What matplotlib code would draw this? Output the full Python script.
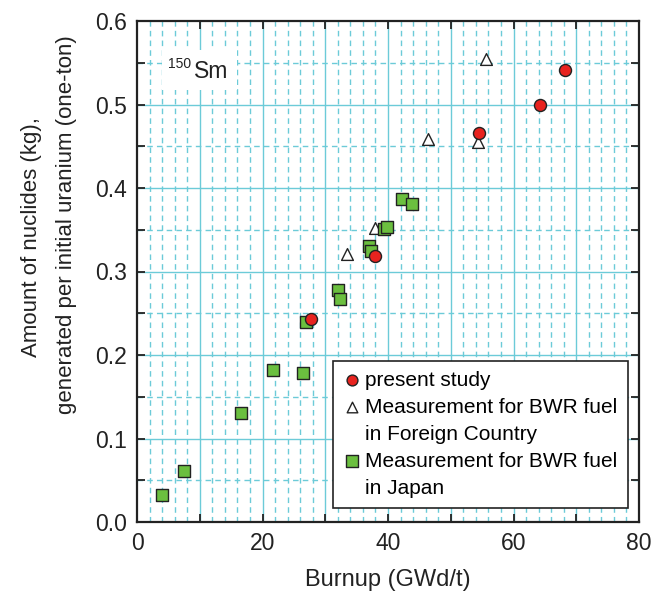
import matplotlib
matplotlib.use("Agg")
import matplotlib.pyplot as plt
from matplotlib.patches import Rectangle
from matplotlib.lines import Line2D
import numpy as np

plt.rcParams['font.family'] = ['Liberation Sans', 'DejaVu Sans']

present_x = [68.2, 64.2, 54.5, 37.9, 27.7]
present_y = [0.541, 0.500, 0.466, 0.318, 0.2435]

foreign_x = [55.6, 46.4, 54.4, 37.9, 33.5]
foreign_y = [0.555, 0.4587, 0.4555, 0.3525, 0.321]

japan_x = [4.0, 7.5, 16.6, 21.7, 26.4, 27.0, 32.1, 32.3, 36.9, 37.3, 39.3, 39.8, 42.3, 43.9]
japan_y = [0.0327, 0.061, 0.131, 0.1824, 0.178, 0.240, 0.278, 0.2675, 0.331, 0.325, 0.3505, 0.3537, 0.3865, 0.381]

legend_lines = ['present study', 'Measurement for BWR fuel', 'in Foreign Country',
                'Measurement for BWR fuel', 'in Japan']

W, H = 654, 592
fig = plt.figure(figsize=(W/100, H/100), dpi=100)
ax = fig.add_axes([137/W, 1-522/H, (639-137)/W, (522-21)/H])

grid_c = '#6ccbd8'
ax.set_xlim(0, 80)
ax.set_ylim(0, 0.6)

# grid lines
for xv in np.arange(10, 80, 10):
    ax.axvline(xv, color=grid_c, lw=1.0, zorder=0)
for xv in np.arange(2, 80, 2):
    if xv % 10 != 0:
        ax.axvline(xv, color=grid_c, lw=1.0, ls=(0, (4, 3)), zorder=0)
for yv in np.arange(0.1, 0.6, 0.1):
    ax.axhline(yv, color=grid_c, lw=1.0, zorder=0)
for yv in np.arange(0.05, 0.6, 0.1):
    ax.axhline(yv, color=grid_c, lw=1.0, ls=(0, (4, 3)), zorder=0)

# white box behind the nuclide label
ax.add_patch(Rectangle((162/W, 1-90/H), (237-162)/W, (90-50)/H, transform=fig.transFigure,
                       facecolor='white', edgecolor='none', zorder=1))
fig.text(168/W, 1-68/H, '150', fontsize=10, color='#222222', va='baseline', ha='left', zorder=6)
fig.text(194/W, 1-78/H, 'Sm', fontsize=16.5, color='#222222', va='baseline', ha='left', zorder=6)

ax.tick_params(which='major', direction='in', top=True, right=True, length=6, width=1.3,
               labelsize=16.5, pad=7, colors='#222222')
ax.tick_params(which='minor', length=0)
xt = list(range(0, 81, 10))
ax.set_xticks(xt)
ax.set_xticklabels([str(v) if v % 20 == 0 else '' for v in xt])
yt = [i * 0.05 for i in range(13)]
ax.set_yticks(yt)
ax.set_yticklabels([f'{v:.1f}' if i % 2 == 0 else '' for i, v in enumerate(yt)])
for s in ax.spines.values():
    s.set_linewidth(1.6)
    s.set_color('#222222')

h1 = ax.scatter(present_x, present_y, s=75, marker='o', facecolor='#e8231f', edgecolor='#222222', lw=1.0, zorder=4)
h2 = ax.scatter(foreign_x, foreign_y, s=72, marker='^', facecolor='white', edgecolor='#222222', lw=1.0, zorder=3)
h3 = ax.scatter(japan_x, japan_y, s=80, marker='s', facecolor='#6bbf3f', edgecolor='#222222', lw=1.0, zorder=3)

blank = Line2D([], [], linestyle='none', marker=None)
leg = ax.legend([h1, h2, blank, h3, blank], legend_lines,
                loc='lower right', bbox_to_anchor=(628/W, 1-508/H), bbox_transform=fig.transFigure,
                fontsize=15, frameon=True, fancybox=False, edgecolor='#222222', framealpha=1,
                handletextpad=0.25, handlelength=0.8, borderpad=0.5, labelspacing=0.38,
                markerscale=0.9, borderaxespad=0)
leg.get_frame().set_linewidth(1.2)
leg.set_zorder(10)

ax.set_xlabel('Burnup (GWd/t)', fontsize=17, labelpad=10, color='#222222')
fig.text(32/W, 1-237/H, 'Amount of nuclides (kg),', rotation=90, fontsize=16, ha='center', va='center', color='#222222')
fig.text(67/W, 1-225/H, 'generated per initial uranium (one-ton)', rotation=90, fontsize=16, ha='center', va='center', color='#222222')

fig.savefig('out.png', dpi=100)
